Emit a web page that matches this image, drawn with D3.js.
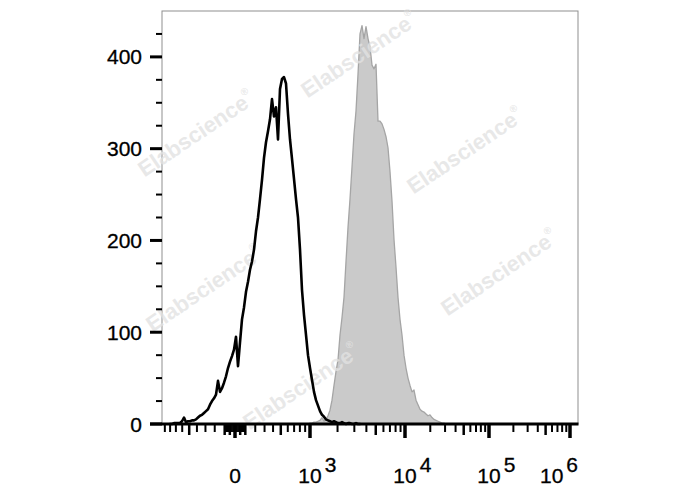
<!DOCTYPE html>
<html>
<head>
<meta charset="utf-8">
<script src="https://cdn.jsdelivr.net/npm/d3@7"></script>
<style>
  html, body { margin: 0; padding: 0; background: #ffffff; }
  svg { display: block; }
</style>
</head>
<body>
<svg id="chart" width="688" height="490"></svg>
<script>
// ---------------- DATA ----------------
// Histogram channels (uniform display bins across the biexponential axis)
const binCount = 208;

// Unstained / isotype control (black outline), starting at channel 4
const controlStart = 4;
const controlCounts = [
  0, 0, 1, 1, 1, 1, 3, 7, 2, 3, 3, 4, 4, 5, 7, 9, 10, 12, 14, 16,
  21, 25, 28, 32, 47, 35, 39, 45, 52, 61, 68, 74, 81, 95, 63, 89, 114, 127, 144, 155,
  168, 177, 190, 210, 225, 245, 266, 290, 307, 319, 332, 354, 335, 345, 310, 365, 376, 378, 371, 338,
  310, 289, 267, 245, 225, 190, 146, 119, 97, 75, 61, 48, 35, 26, 20, 14, 10, 8, 5, 4,
  3, 2, 3, 2, 1, 1, 2, 1, 0, 1, 1, 0, 0, 1, 0, 0
];

// Stained sample (grey filled), starting at channel 69
const stainedStart = 69;
const stainedCounts = [
  0, 0, 0, 0, 0, 1, 1, 2, 2, 3, 4, 7, 3, 5, 9, 15, 26, 42, 57, 70,
  97, 116, 138, 177, 214, 245, 280, 316, 341, 381, 425, 434, 420, 433, 420, 411, 391, 387, 392, 330,
  330, 327, 321, 313, 301, 275, 243, 201, 171, 138, 114, 97, 75, 61, 50, 42, 35, 37, 26, 21,
  16, 14, 13, 11, 9, 10, 7, 5, 4, 3, 2, 1, 1, 0
];

// Y axis ticks
const yMajorTicks = [0, 100, 200, 300, 400];
const yMinorTicks = [25, 50, 75, 125, 150, 175, 225, 250, 275, 325, 350, 375, 425];

// X axis (biexponential) labels
const xDecadeValues = [0, 1e3, 1e4, 1e5, 1e6];
const xDecadeBases = ["0", "10", "10", "10", "10"];
const xDecadeExponents = ["", "3", "4", "5", "6"];

// Watermark
const watermarkText = "Elabscience";
const watermarkMark = "®";

// ---------------- LAYOUT ----------------
const svg = d3.select("#chart");
const plot = { left: 162, right: 578, top: 11, bottom: 424 };
const fontFamily = "'Liberation Sans', Arial, Helvetica, sans-serif";

const binScale = d3.scaleLinear().domain([0, binCount]).range([plot.left, plot.right]);
const y = d3.scaleLinear().domain([0, 450]).range([plot.bottom, plot.top]);

// biexponential value axis: asinh transform, calibrated to the decade positions
const asinhW = 500;
const tr = v => Math.asinh(v / asinhW);
const xValue = d3.scaleLinear()
  .domain([-1000, 0, 1e3, 1e4, 1e5, 1e6].map(tr))
  .range([160, 235, 310, 405, 489, 570]);
const xv = v => xValue(tr(v));

// ---------------- FRAME ----------------
svg.append("rect")
  .attr("x", plot.left).attr("y", plot.top)
  .attr("width", plot.right - plot.left).attr("height", plot.bottom - plot.top)
  .attr("fill", "#ffffff").attr("stroke", "#8f8f8f").attr("stroke-width", 1);

// ---------------- STAINED (grey filled) ----------------
const stainedData = stainedCounts.map((c, i) => ({ ch: stainedStart + i, c }));
const area = d3.area()
  .x(d => binScale(d.ch))
  .y0(y(0))
  .y1(d => y(d.c));
svg.append("path")
  .datum(stainedData)
  .attr("d", area)
  .attr("fill", "#cacaca")
  .attr("stroke", "#a5a5a5")
  .attr("stroke-width", 1.3)
  .attr("stroke-linejoin", "round");

// ---------------- WATERMARKS ----------------
const watermarkCenters = [
  [197, 135], [360, 56], [466, 152], [205, 290], [500, 274], [302, 388]
];
const wm = svg.append("g").attr("pointer-events", "none");
watermarkCenters.forEach(([cx, cy]) => {
  const t = wm.append("text")
    .attr("transform", `translate(${cx},${cy}) rotate(-34)`)
    .attr("text-anchor", "middle")
    .attr("dominant-baseline", "middle")
    .attr("font-family", fontFamily)
    .attr("font-weight", "bold")
    .attr("font-size", 22)
    .attr("fill", "#e2e2e2")
    .attr("fill-opacity", 0.8);
  t.append("tspan").text(watermarkText);
  t.append("tspan").attr("font-size", 10).attr("dy", -9).text(watermarkMark);
});

// ---------------- CONTROL (black outline) ----------------
const controlData = controlCounts.map((c, i) => ({ ch: controlStart + i, c }));
const line = d3.line()
  .x(d => binScale(d.ch))
  .y(d => y(d.c));
svg.append("path")
  .datum(controlData)
  .attr("d", line)
  .attr("fill", "none")
  .attr("stroke", "#000000")
  .attr("stroke-width", 2.6)
  .attr("stroke-linejoin", "round")
  .attr("stroke-linecap", "round");

// ---------------- Y AXIS ----------------
const yAxisG = svg.append("g");
yAxisG.selectAll("line.major").data(yMajorTicks).enter().append("line")
  .attr("x1", plot.left - 12).attr("x2", plot.left)
  .attr("y1", d => y(d)).attr("y2", d => y(d))
  .attr("stroke", "#000").attr("stroke-width", 3);
yAxisG.selectAll("line.minor").data(yMinorTicks).enter().append("line")
  .attr("x1", plot.left - 6).attr("x2", plot.left)
  .attr("y1", d => y(d)).attr("y2", d => y(d))
  .attr("stroke", "#000").attr("stroke-width", 2);
yAxisG.selectAll("text").data(yMajorTicks).enter().append("text")
  .attr("x", 142).attr("y", d => y(d))
  .attr("dy", "0.36em")
  .attr("text-anchor", "end")
  .attr("font-family", fontFamily)
  .attr("font-size", 21)
  .attr("fill", "#000")
  .attr("stroke", "#000").attr("stroke-width", 0.3)
  .text(d => d);

// ---------------- X AXIS ----------------
const xAxisG = svg.append("g");
// tick sets
const nearZero = d3.range(-90, 91, 10).filter(v => v !== 0);
const negHundreds = [-900, -800, -700, -600, -400, -300, -200];
const posHundreds = [200, 300, 400, 600, 700, 800, 900];
const minorTicks = [...nearZero, ...negHundreds, ...posHundreds];
const mediumTicks = [-500, -100, 100, 500, -50, 50];
[1e3, 1e4, 1e5].forEach(dec => {
  [2, 3, 4, 6, 7, 8, 9].forEach(m => minorTicks.push(m * dec));
  mediumTicks.push(5 * dec);
});
const majorTicks = xDecadeValues;

xAxisG.selectAll("line.minor").data(minorTicks).enter().append("line")
  .attr("x1", d => xv(d)).attr("x2", d => xv(d))
  .attr("y1", plot.bottom).attr("y2", plot.bottom + 8)
  .attr("stroke", "#000").attr("stroke-width", d => Math.abs(d) < 100 ? 1.6 : 2);
xAxisG.selectAll("line.medium").data(mediumTicks).enter().append("line")
  .attr("x1", d => xv(d)).attr("x2", d => xv(d))
  .attr("y1", plot.bottom).attr("y2", plot.bottom + 11)
  .attr("stroke", "#000").attr("stroke-width", 2.5);
xAxisG.selectAll("line.major").data(majorTicks).enter().append("line")
  .attr("x1", d => xv(d)).attr("x2", d => xv(d))
  .attr("y1", plot.bottom).attr("y2", plot.bottom + 14)
  .attr("stroke", "#000").attr("stroke-width", 3.5);

// axis baseline (thick), joined with the y-axis zero tick
xAxisG.append("line")
  .attr("x1", plot.left - 12).attr("x2", plot.right + 0.5)
  .attr("y1", plot.bottom).attr("y2", plot.bottom)
  .attr("stroke", "#000").attr("stroke-width", 3);

// labels
xDecadeValues.forEach((v, i) => {
  const t = xAxisG.append("text")
    .attr("y", 483)
    .attr("font-family", fontFamily)
    .attr("font-size", 21)
    .attr("fill", "#000")
    .attr("stroke", "#000").attr("stroke-width", 0.3);
  const base = t.append("tspan").text(xDecadeBases[i]);
  const baseW = base.node().getComputedTextLength();
  if (xDecadeExponents[i]) {
    t.append("tspan").attr("dx", 3).attr("dy", -11).text(xDecadeExponents[i]);
  }
  const totalW = t.node().getComputedTextLength() + (xDecadeExponents[i] ? 3 : 0);
  let x0 = xv(v) - baseW / 2;
  if (x0 + totalW > plot.right) x0 = plot.right - totalW;
  t.attr("x", x0);
});
</script>
</body>
</html>
